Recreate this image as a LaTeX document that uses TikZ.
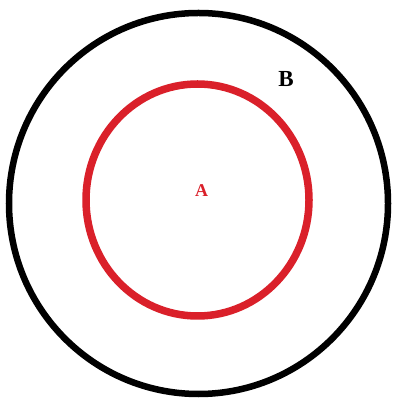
\documentclass[tikz,border=0pt]{standalone}
\usepackage{fontspec}
\setmainfont{Liberation Serif}
\definecolor{cred}{RGB}{218,32,42}
\begin{document}
\begin{tikzpicture}[x=1pt,y=1pt,
  outerring/.style={draw=black,line width=6.5pt},
  innerring/.style={draw=cred,line width=7.5pt},
  lbl/.style={inner sep=0pt}]
\useasboundingbox (0,0) rectangle (393,398);
\fill[white] (0,0) rectangle (393,398);
\draw[outerring] (198.5,194.5) ellipse [x radius=189.5, y radius=190.5];
\draw[innerring] (197.5,198) ellipse [x radius=111.5, y radius=116];
\node[lbl,text=cred,font=\bfseries\fontsize{18}{18}\selectfont] (A) at (201.5,207.5) {A};
\node[lbl,text=black,font=\bfseries\fontsize{23}{23}\selectfont] (B) at (286,318.5) {B};
\end{tikzpicture}
\end{document}
